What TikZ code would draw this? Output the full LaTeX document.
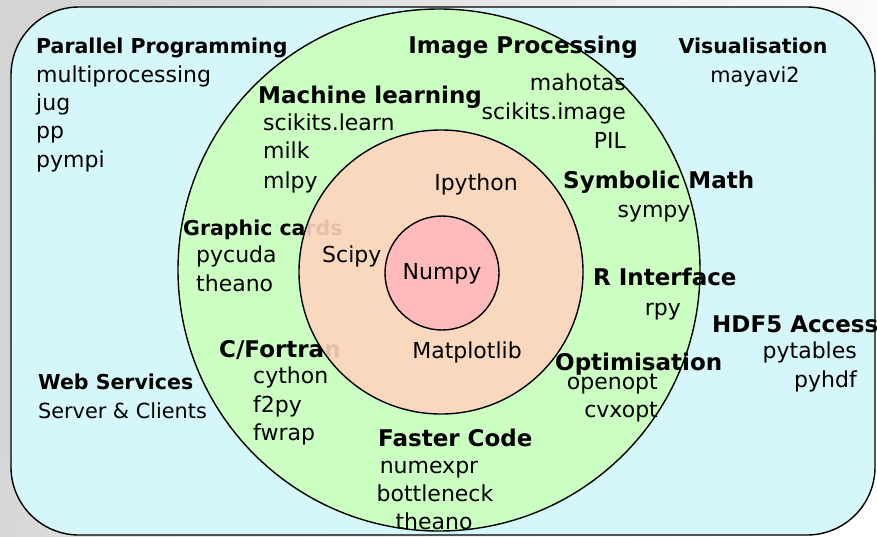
\documentclass[tikz,border=0pt]{standalone}
\usepackage{fontspec}
\setmainfont{DejaVu Sans}
\usetikzlibrary{positioning}
\definecolor{bgCyan}{RGB}{213,247,250}
\definecolor{ringGreen}{RGB}{204,255,194}
\definecolor{ringPeach}{RGB}{255,212,190}
\definecolor{corePink}{RGB}{255,187,187}
\begin{document}
\begin{tikzpicture}[x=1pt,y=-1pt,
	head/.style={font=\fontsize{20.5}{24}\selectfont\bfseries,inner sep=0pt},
	ringhead/.style={font=\fontsize{23}{27}\selectfont\bfseries,inner sep=0pt},
	item/.style={font=\fontsize{22}{26}\selectfont,inner sep=0pt},
	smallitem/.style={font=\fontsize{20.8}{25}\selectfont,inner sep=0pt},
	ring/.style={circle,draw,line width=1.4pt,inner sep=0pt}]
	\useasboundingbox (0,0) rectangle (877,536);
	\shade[left color=black!17,right color=white,shading angle=70] (0,0) rectangle (877,536);
	\draw[line width=1.4pt,fill=bgCyan,rounded corners=68pt] (11,7) rectangle (875,535);
	
	\node (cGreen) at (439,270) [ring,fill=ringGreen,minimum size=522pt] {};
	
	% labels partly hidden by the middle ring
	\node (lblGraphic) at (183,235) [head,anchor=base west] {Graphic cards};
	\node (lblFortran) at (219,357) [ringhead,anchor=base west] {C/Fortran};
	
	\node (cPeach) at (441,272) [ring,fill=ringPeach,fill opacity=.9,minimum size=284pt] {};
	\node (cPink) at (442,273) [ring,fill=corePink,minimum size=114pt] {};
	
	% outer box
	\node (lblParallel) at (36,53) [head,anchor=base west] {Parallel Programming};
	\node (lblMulti) at (36,82) [item,anchor=base west] {multiprocessing};
	\node (lblJug) at (36,110) [item,anchor=base west] {jug};
	\node (lblPp) at (36,138) [item,anchor=base west] {pp};
	\node (lblPympi) at (36,167) [item,anchor=base west] {pympi};
	\node (lblVisual) at (753,53) [head,anchor=base] {Visualisation};
	\node (lblMayavi) at (755,82) [smallitem,anchor=base] {mayavi2};
	\node (lblHdf) at (712,332) [ringhead,anchor=base west] {HDF5 Access};
	\node (lblPytables) at (857,358) [item,anchor=base east] {pytables};
	\node (lblPyhdf) at (857,387) [item,anchor=base east] {pyhdf};
	\node (lblWeb) at (38,389) [head,anchor=base west] {Web Services};
	\node (lblServer) at (38,418) [smallitem,anchor=base west] {Server \& Clients};
	
	% green ring
	\node (lblImage) at (523,53) [ringhead,anchor=base] {Image Processing};
	\node (lblMahotas) at (626,90) [item,anchor=base east] {mahotas};
	\node (lblSkImage) at (626,119) [item,anchor=base east] {scikits.image};
	\node (lblPil) at (626,148) [item,anchor=base east] {PIL};
	\node (lblMachine) at (258,103) [ringhead,anchor=base west] {Machine learning};
	\node (lblSkLearn) at (263,130) [item,anchor=base west] {scikits.learn};
	\node (lblMilk) at (263,158) [item,anchor=base west] {milk};
	\node (lblMlpy) at (263,188) [item,anchor=base west] {mlpy};
	\node (lblSymbolic) at (563,188) [ringhead,anchor=base west] {Symbolic Math};
	\node (lblSympy) at (654,217) [item,anchor=base] {sympy};
	\node (lblPycuda) at (196,262) [item,anchor=base west] {pycuda};
	\node (lblTheanoA) at (196,291) [item,anchor=base west] {theano};
	\node (lblRInt) at (593,285) [ringhead,anchor=base west] {R Interface};
	\node (lblRpy) at (681,315) [item,anchor=base east] {rpy};
	\node (lblCython) at (253,383) [item,anchor=base west] {cython};
	\node (lblF2py) at (253,412) [item,anchor=base west] {f2py};
	\node (lblFwrap) at (253,440) [item,anchor=base west] {fwrap};
	\node (lblOptim) at (555,370) [ringhead,anchor=base west] {Optimisation};
	\node (lblOpenopt) at (658,389) [item,anchor=base east] {openopt};
	\node (lblCvxopt) at (658,417) [item,anchor=base east] {cvxopt};
	\node (lblFaster) at (378,446) [ringhead,anchor=base west] {Faster Code};
	\node (lblNumexpr) at (429,473) [item,anchor=base] {numexpr};
	\node (lblBottle) at (435,501) [item,anchor=base] {bottleneck};
	\node (lblTheanoB) at (434,529) [item,anchor=base] {theano};
	
	% inner rings
	\node (lblIpython) at (476,190) [item,anchor=base] {Ipython};
	\node (lblScipy) at (322,262) [item,anchor=base west] {Scipy};
	\node (lblMatplot) at (467,358) [item,anchor=base] {Matplotlib};
	\node (lblNumpy) at (cPink) [item,anchor=center,yshift=-1pt] {Numpy};
\end{tikzpicture}
\end{document}
